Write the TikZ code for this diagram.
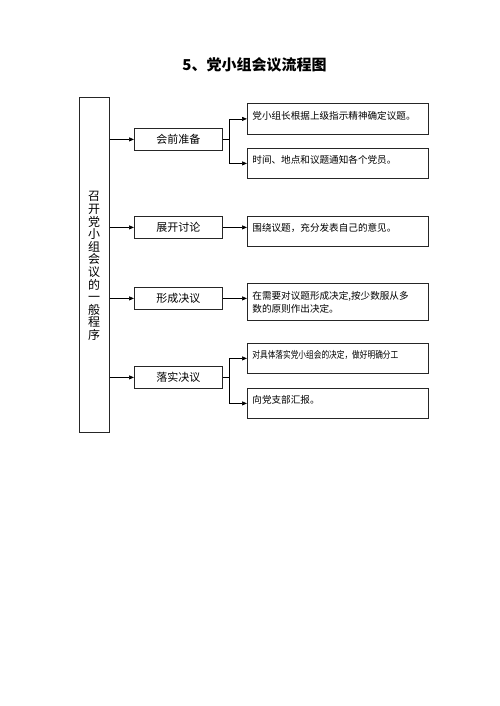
\documentclass[tikz,border=0pt]{standalone}
\usepackage{fontspec}
\newfontfamily\cjk{Noto Sans CJK SC}
\usetikzlibrary{arrows.meta}
\begin{document}
\begin{tikzpicture}[x=1pt,y=-1pt,
  font=\cjk,
  lbox/.style={draw=black!85, line width=1.2pt, minimum width=30pt, minimum height=335pt, inner sep=0pt, anchor=north west},
  mbox/.style={draw=black!85, line width=0.8pt, minimum width=88pt, minimum height=22pt, inner sep=0pt, font=\cjk\fontsize{11}{13}\selectfont, anchor=north west},
  rbox/.style={draw=black!85, line width=0.8pt, minimum width=181pt, text width=171pt, inner xsep=5pt, inner ysep=2pt, align=left, font=\cjk\fontsize{9.6}{13}\selectfont, anchor=north west},
  up/.style={text depth=7pt},
  arr/.style={-{Triangle[length=5pt,width=4pt]}, line width=0.7pt},
  conn/.style={line width=0.7pt}
]
\useasboundingbox (0,0) rectangle (500,706);
\node[font=\cjk\bfseries\fontsize{15}{18}\selectfont] (title) at (254.5,65) {5、党小组会议流程图};
\node[lbox] (L) at (79,97) {};
\node[font=\cjk\fontsize{12}{12.6}\selectfont, align=center, inner sep=0pt] (Lt) at (94,266) {召\\开\\党\\小\\组\\会\\议\\的\\一\\般\\程\\序};

\node[mbox] (m1) at (134,128) {会前准备};
\node[mbox] (m2) at (134,216) {展开讨论};
\node[mbox] (m3) at (134,287) {形成决议};
\node[mbox] (m4) at (134,366) {落实决议};

\node[rbox, up, minimum height=31pt] (r1) at (247,103) {党小组长根据上级指示精神确定议题。};
\node[rbox, up, minimum height=30pt] (r2) at (247,148) {时间、地点和议题通知各个党员。};
\node[rbox, up, minimum height=30pt] (r3) at (247,216) {围绕议题，充分发表自己的意见。};
\node[rbox, minimum height=37pt] (r4) at (247,283) {在需要对议题形成决定,按少数服从多\\数的原则作出决定。};
\node[rbox, up, minimum height=30pt] (r5) at (247,343) {\scalebox{0.8}[1]{对具体落实党小组会的决定，做好明确分工}};
\node[rbox, up, minimum height=30pt] (r6) at (247,388) {向党支部汇报。};

\foreach \m in {m1,m2,m3,m4}{\draw[arr] (L.east |- \m) -- (\m.west);}
\draw[conn] (m1.east) -- ++(7,0) coordinate (b1);
\draw[arr] (b1) |- (r1.west);
\draw[arr] (b1) |- (r2.west);
\draw[arr] (m2.east) -- (r3.west |- m2);
\draw[arr] (m3.east) -- (r4.west |- m3);
\draw[conn] (m4.east) -- ++(7,0) coordinate (b2);
\draw[arr] (b2) |- (r5.west);
\draw[arr] (b2) |- (r6.west);
\end{tikzpicture}
\end{document}
